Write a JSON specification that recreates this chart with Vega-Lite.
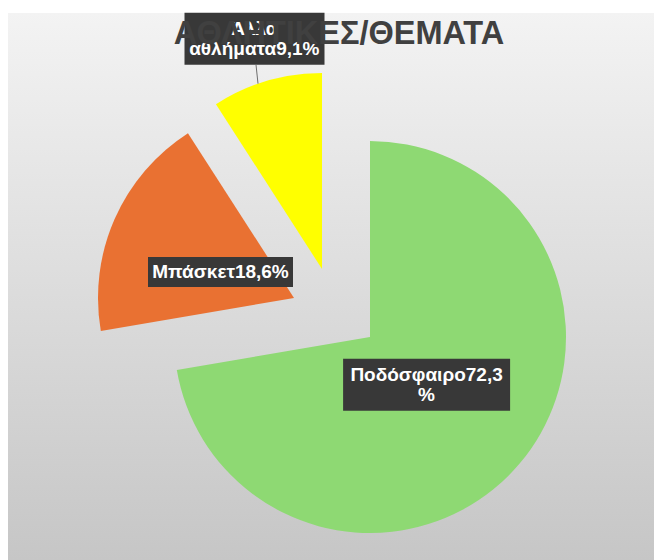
{
  "$schema": "https://vega.github.io/schema/vega-lite/v6.json",
  "width": 646,
  "height": 547,
  "autosize": {"type": "none"},
  "padding": {"left": 8, "top": 13, "right": 0, "bottom": 0},
  "background": "#ffffff",
  "title": {
    "text": "ΑΘΛΗΤΙΚΕΣ/ΘΕΜΑΤΑ",
    "font": "Liberation Sans",
    "fontSize": 32.5,
    "fontWeight": "bold",
    "color": "#404040",
    "anchor": "middle",
    "frame": "group",
    "baseline": "alphabetic",
    "offset": -32.5,
    "dx": 8,
    "dy": 31.5
  },
  "data": {
    "values": [
      {"sport": "Ποδόσφαιρο", "pct": 72.3, "label": "Ποδόσφαιρο72,3\n%"},
      {"sport": "Μπάσκετ", "pct": 18.6, "label": "Μπάσκετ18,6%"},
      {"sport": "Άλλα αθλήματα", "pct": 9.1, "label": "Άλλα\nαθλήματα9,1%"}
    ]
  },
  "layer": [
    {
      "data": {"values": [{}]},
      "mark": {
        "type": "rect",
        "opacity": 1,
        "color": {
          "gradient": "linear",
          "x1": 0, "y1": 0, "x2": 0, "y2": 1,
          "stops": [
            {"offset": 0, "color": "#f3f3f3"},
            {"offset": 1, "color": "#c6c6c6"}
          ]
        }
      },
      "encoding": {}
    },
    {
      "mark": {
        "type": "arc",
        "radius": 196,
        "xOffset": {"expr": "datum.sport === 'Ποδόσφαιρο' ? 39 : datum.sport === 'Μπάσκετ' ? -37 : -9"},
        "yOffset": {"expr": "datum.sport === 'Ποδόσφαιρο' ? 50.5 : datum.sport === 'Μπάσκετ' ? 11.5 : -17.5"}
      },
      "encoding": {
        "theta": {"field": "pct", "type": "quantitative", "stack": true},
        "order": {"field": "pct", "sort": "descending"},
        "color": {
          "field": "sport",
          "type": "nominal",
          "scale": {
            "domain": ["Ποδόσφαιρο", "Μπάσκετ", "Άλλα αθλήματα"],
            "range": ["#8ed973", "#e97132", "#ffff00"]
          },
          "legend": null
        }
      }
    },
    {
      "mark": {
        "type": "point",
        "filled": true,
        "opacity": 1,
        "size": 10000,
        "color": "#383838",
        "xOffset": {"expr": "datum.sport === 'Ποδόσφαιρο' ? 95.6 : datum.sport === 'Μπάσκετ' ? -110.5 : -76.5"},
        "yOffset": {"expr": "datum.sport === 'Ποδόσφαιρο' ? 98.2 : datum.sport === 'Μπάσκετ' ? -14.5 : -247.8"}
      },
      "encoding": {
        "shape": {
          "field": "sport",
          "type": "nominal",
          "scale": {
            "domain": ["Ποδόσφαιρο", "Μπάσκετ", "Άλλα αθλήματα"],
            "range": ["M-1.67,-0.52H1.67V0.52H-1.67Z", "M-1.45,-0.3H1.45V0.3H-1.45Z", "M-1.4,-0.52H1.4V0.52H-1.4Z"]
          },
          "legend": null
        }
      }
    },
    {
      "transform": [{"filter": "datum.sport === 'Άλλα αθλήματα'"}],
      "mark": {
        "type": "point",
        "filled": false,
        "opacity": 1,
        "size": 10000,
        "shape": "M0.03,0.52L0.07,0.9",
        "stroke": "#6e6e6e",
        "strokeWidth": 1,
        "xOffset": -76.5,
        "yOffset": -247.8
      },
      "encoding": {}
    },
    {
      "mark": {
        "type": "text",
        "font": "Liberation Sans",
        "fontSize": 19,
        "fontWeight": "bold",
        "color": "#ffffff",
        "align": "center",
        "baseline": "middle",
        "lineBreak": "\n",
        "lineHeight": 20,
        "radius": {"expr": "datum.sport === 'Άλλα αθλήματα' ? 240 : datum.sport === 'Μπάσκετ' ? 78 : 74"},
        "xOffset": {"expr": "datum.sport === 'Ποδόσφαιρο' ? 39 : datum.sport === 'Μπάσκετ' ? -39.1 : -9"},
        "yOffset": {"expr": "datum.sport === 'Ποδόσφαιρο' ? 40.5 : datum.sport === 'Μπάσκετ' ? 16.9 : -27.5"}
      },
      "encoding": {
        "theta": {"field": "pct", "type": "quantitative", "stack": true},
        "order": {"field": "pct", "sort": "descending"},
        "text": {"field": "label"}
      }
    }
  ],
  "config": {
    "view": {"stroke": null}
  }
}
